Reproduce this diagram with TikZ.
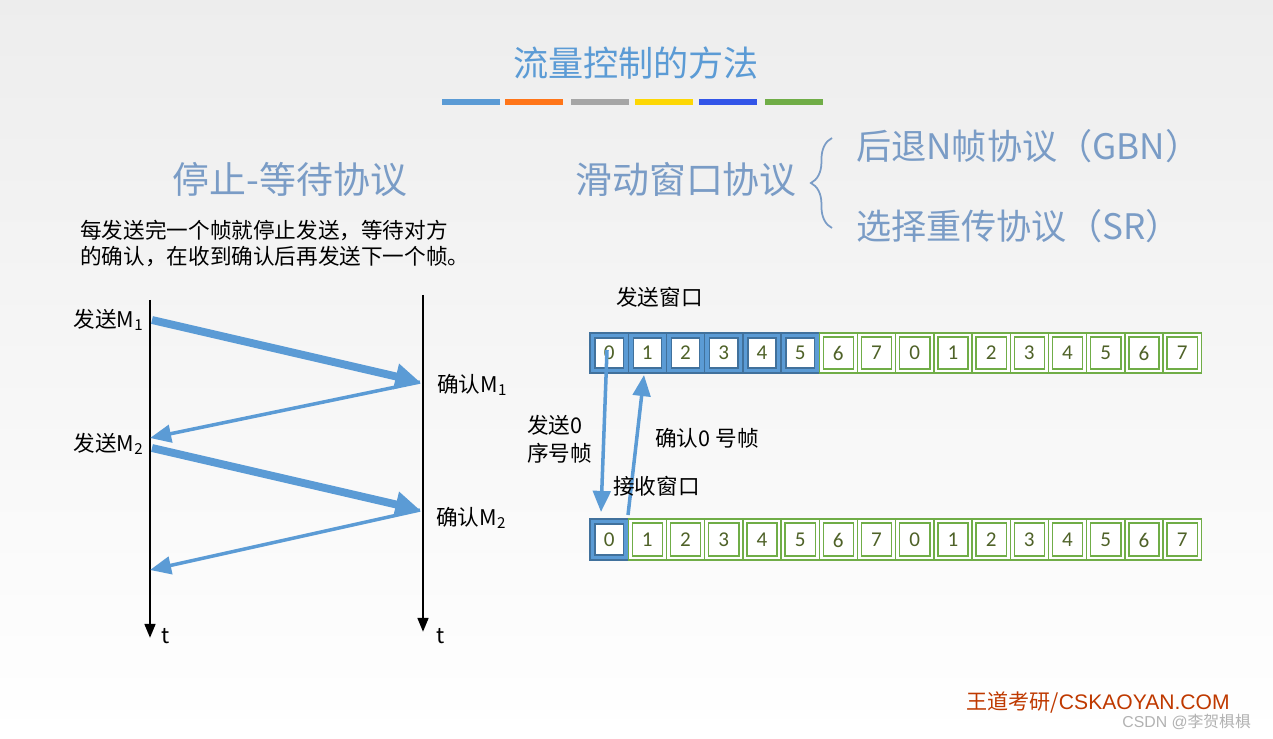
\documentclass[tikz,border=0pt]{standalone}
\usepackage{fontspec}
\setmainfont{Carlito}
\newfontfamily\cjk{Noto Sans CJK SC}
\newfontfamily\arialf{Liberation Sans}
\usetikzlibrary{decorations.pathreplacing,arrows.meta}
\definecolor{tblue}{HTML}{5B9BD5}
\definecolor{hblue}{HTML}{7A9CC6}
\definecolor{cgreen}{HTML}{70AD47}
\definecolor{numc}{HTML}{4F6228}
\definecolor{dblue}{HTML}{41719C}
\tikzset{
 px/.style={font=\cjk\fontsize{#1}{#1}\selectfont},
 lbl/.style={px=12.3pt,text=black,inner sep=0pt},
 thickar/.style={tblue,line width=4.5pt,-{Triangle[length=14pt,width=14pt]}},
 thinar/.style={tblue,line width=2pt,-{Triangle[length=12pt,width=10pt]}},
 axis/.style={black,line width=1.6pt,-{Triangle[length=8pt,width=6pt]}},
 gcell/.style={draw=cgreen,line width=0.8pt,fill=white},
 bcell/.style={draw=dblue,line width=0.8pt,fill=tblue},
}
\begin{document}
\begin{tikzpicture}[x=0.02cm,y=-0.02cm]
\shade[top color=black!7,bottom color=white] (0,0) rectangle (1273,739);
\useasboundingbox (0,0) rectangle (1273,739);
\node[px=20pt,text=tblue] (title) at (636,63) {流量控制的方法};
\foreach \a/\c in {442/tblue,505/orange!80!red!90!white,571/gray!70,635/yellow!75!orange,699/blue!45!tblue,765/cgreen}
  \fill[\c] (\a,99) rectangle ++(58,6);
\node[px=21pt,text=hblue] (sw) at (290,180) {停止-等待协议};
\node[px=21pt,text=hblue] (sl) at (686,180) {滑动窗口协议};
\draw[hblue,line width=1pt,decorate,decoration={brace,amplitude=12pt}] (832,228) -- (832,138);
\node[px=20pt,text=hblue,anchor=west] (gbn) at (850,146) {后退N帧协议（GBN）};
\node[px=20pt,text=hblue,anchor=west] (sr) at (850,226) {选择重传协议（SR）};
\node[lbl,anchor=west] (p1) at (80,230) {每发送完一个帧就停止发送，等待对方};
\node[lbl,anchor=west] (p2) at (80,257) {的确认，在收到确认后再发送下一个帧。};
% axes
\coordinate (a1) at (150,300); \coordinate (a1e) at (150,638);
\coordinate (b1) at (423,295); \coordinate (b1e) at (423,632);
\draw[axis] (a1) -- (a1e);
\draw[axis] (b1) -- (b1e);
\node[lbl] (t1) at (166,636) {t};
\node[lbl] (t2) at (441,636) {t};
\coordinate (s1) at (152,320); \coordinate (r1) at (420,382);
\coordinate (s2) at (150,438); \coordinate (s2b) at (152,448);
\coordinate (r2) at (420,510); \coordinate (s3) at (150,570);
\draw[thickar] (s1) -- (r1);
\draw[thinar] (r1) -- (s2);
\draw[thickar] (s2b) -- (r2);
\draw[thinar] (r2) -- (s3);
\node[lbl,anchor=east] (m1) at (144,320) {发送M\textsubscript{1}};
\node[lbl,anchor=west] (c1) at (437,385) {确认M\textsubscript{1}};
\node[lbl,anchor=east] (m2) at (144,444) {发送M\textsubscript{2}};
\node[lbl,anchor=west] (c2) at (436,518) {确认M\textsubscript{2}};
% windows
\foreach \i [evaluate=\i as \n using {int(mod(\i,8))}] in {0,...,15}{
  \pgfmathsetmacro\xx{590+38.2*\i}
  \ifnum\i<6 \def\st{bcell}\else\def\st{gcell}\fi
  \draw[\st] (\xx,333) rectangle ++(38.2,40);
  \ifnum\i<6 \draw[draw=dblue,line width=0.8pt,fill=white] (\xx+5,338) rectangle ++(28.2,30);
  \else \draw[draw=cgreen,line width=0.8pt] (\xx+4,337) rectangle ++(30.2,32); \fi
  \node[font=\fontsize{12pt}{12pt}\selectfont,text=numc] (u\i) at (\xx+19.1,353) {\n};
  \ifnum\i<1 \def\st{bcell}\else\def\st{gcell}\fi
  \draw[\st] (\xx,519) rectangle ++(38.2,41);
  \ifnum\i<1 \draw[draw=dblue,line width=0.8pt,fill=white] (\xx+5,524) rectangle ++(28.2,31);
  \else \draw[draw=cgreen,line width=0.8pt] (\xx+4,523) rectangle ++(30.2,33); \fi
  \node[font=\fontsize{12pt}{12pt}\selectfont,text=numc] (d\i) at (\xx+19.1,540) {\n};
}
\coordinate (sa) at (607,350); \coordinate (sb) at (601,512);
\coordinate (ra) at (628,515); \coordinate (rb) at (644,375);
\draw[thinar] (sa) -- (sb);
\draw[thinar] (ra) -- (rb);
\node[lbl,anchor=west] (sw1) at (616,297) {发送窗口};
\node[lbl,anchor=west] (f0) at (527,425) {发送0};
\node[lbl,anchor=west] (f1) at (527,453) {序号帧};
\node[lbl,anchor=west] (ack) at (655,438) {确认0 号帧};
\node[lbl,anchor=west] (rw) at (613,486) {接收窗口};
\node[anchor=west,inner sep=0pt,text=orange!60!red!75!black] (wm) at (966,702) {\cjk\fontsize{12pt}{12pt}\selectfont 王道考研/\arialf CSKAOYAN.COM};
\node[anchor=west,inner sep=0pt,text=gray!60] (csdn) at (1122,722) {\cjk\fontsize{9pt}{9pt}\selectfont \arialf CSDN @\cjk 李贺椇椇};
\end{tikzpicture}
\end{document}
